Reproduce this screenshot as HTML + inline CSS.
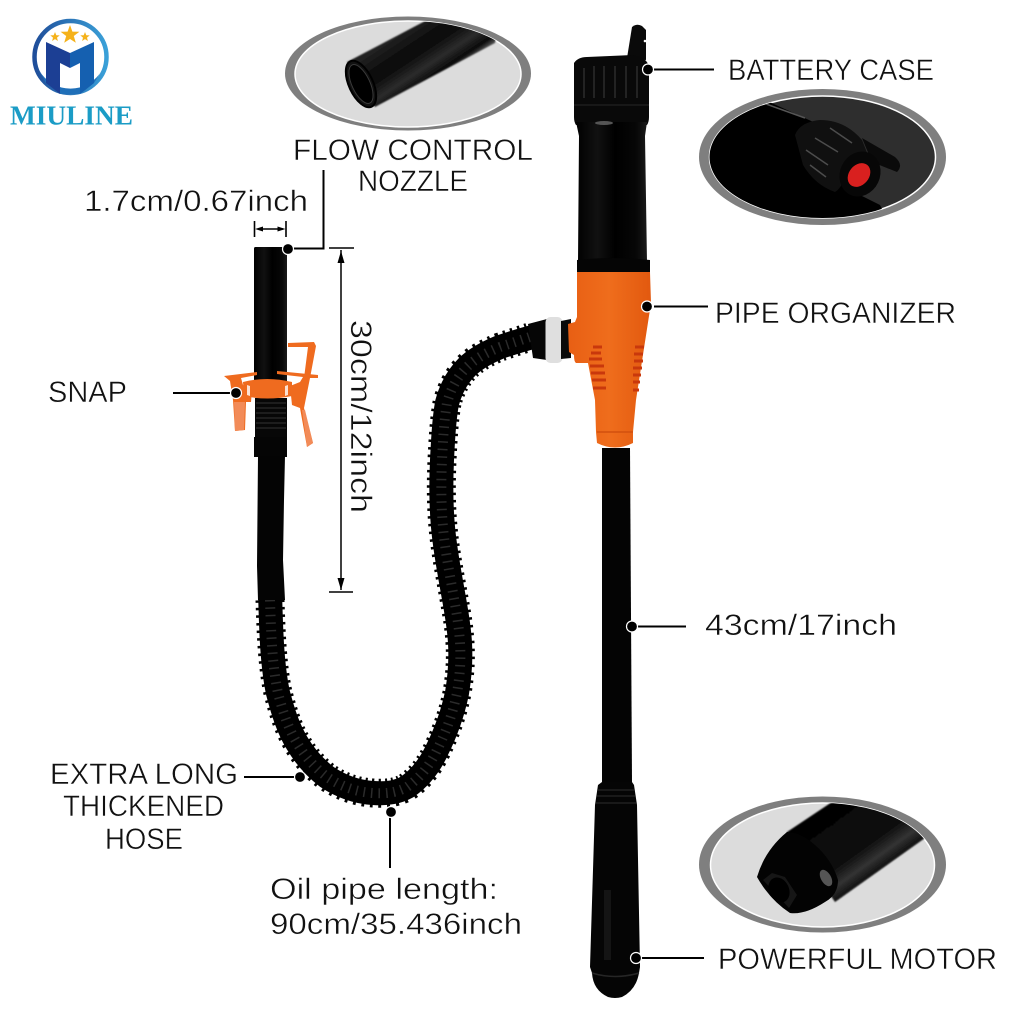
<!DOCTYPE html>
<html><head><meta charset="utf-8">
<style>
html,body{margin:0;padding:0;background:#fff;width:1024px;height:1024px;overflow:hidden}
svg{display:block}
.t{font-family:"Liberation Sans",sans-serif;font-size:30px;fill:#111;stroke:#fff;stroke-width:.45px;paint-order:fill}
</style></head><body>
<svg width="1024" height="1024" viewBox="0 0 1024 1024" xmlns="http://www.w3.org/2000/svg">
<defs>
<clipPath id="c1"><ellipse cx="408" cy="74" rx="113" ry="53"/></clipPath>
<clipPath id="c2"><ellipse cx="822.5" cy="157" rx="113" ry="61"/></clipPath>
<clipPath id="c3"><ellipse cx="822.5" cy="865" rx="112" ry="62"/></clipPath>
<linearGradient id="body" x1="0" x2="1" y1="0" y2="0"><stop offset="0" stop-color="#000"/><stop offset=".3" stop-color="#111"/><stop offset=".55" stop-color="#000"/><stop offset=".85" stop-color="#070707"/><stop offset="1" stop-color="#1a1a1a"/></linearGradient>
<linearGradient id="or" x1="0" x2="1" y1="0" y2="0"><stop offset="0" stop-color="#e85f14"/><stop offset=".5" stop-color="#ef6d1c"/><stop offset="1" stop-color="#e2590f"/></linearGradient>
<linearGradient id="tube1" gradientUnits="userSpaceOnUse" x1="387" y1="42" x2="420" y2="92"><stop offset="0" stop-color="#222"/><stop offset=".4" stop-color="#060606"/><stop offset=".7" stop-color="#2c2c2c"/><stop offset=".9" stop-color="#0a0a0a"/><stop offset="1" stop-color="#555"/></linearGradient>
<linearGradient id="tube3" gradientUnits="userSpaceOnUse" x1="825" y1="815" x2="875" y2="885"><stop offset="0" stop-color="#050505"/><stop offset=".55" stop-color="#0a0a0a"/><stop offset=".75" stop-color="#333"/><stop offset=".92" stop-color="#080808"/><stop offset="1" stop-color="#666"/></linearGradient>
<linearGradient id="logo" x1="0" x2="1" y1="0" y2="0"><stop offset="0" stop-color="#1f4e9a"/><stop offset="1" stop-color="#3aa0d8"/></linearGradient>
<filter id="soft"><feGaussianBlur stdDeviation=".7"/></filter>
</defs>

<!-- logo -->
<circle cx="70.5" cy="57" r="36" fill="none" stroke="url(#logo)" stroke-width="4.5"/>
<path d="M39 70 A36 36 0 0 0 102 70 L94 83 L80 94 L60 94 L46 83Z" fill="#1f6fb8"/>
<path d="M46 42 L70 53 L70 68 L60 63 L60 94 L46 83Z" fill="#1c3f94"/>
<path d="M94 42 L70 53 L70 68 L80 63 L80 94 L94 83Z" fill="#1560b0"/>
<path d="M70 25l2.400 6.600 7 .2-5.600 4.200 2 6.800L70 39l-5.800 3.800 2-6.800-5.600-4.200 7-.2z" fill="#f5b21a"/>
<path d="M55 32l1.300 3.200 3.400.2-2.700 2.200.9 3.400-2.900-1.900-2.900 1.900.9-3.400-2.700-2.200 3.400-.2z" fill="#f5b21a"/>
<path d="M85 32l1.300 3.200 3.400.2-2.700 2.200.9 3.400-2.900-1.900-2.900 1.900.9-3.400-2.700-2.200 3.400-.2z" fill="#f5b21a"/>
<text x="10" y="124.500" font-family="'Liberation Serif',serif" font-weight="700" font-size="27" fill="#1b9cc6" textLength="123" lengthAdjust="spacingAndGlyphs">MIULINE</text>

<!-- inset top -->
<ellipse cx="408" cy="73.500" rx="123" ry="57" fill="#7f7f7f"/>
<ellipse cx="408" cy="74" rx="113" ry="53" fill="#dcdcdc" stroke="#fff" stroke-width="1.500"/>
<g clip-path="url(#c1)">
<path d="M347 62 L427 20 L500 15 L495 43 L375 107Z" fill="url(#tube1)" filter="url(#soft)"/>
<ellipse cx="361" cy="84" rx="12" ry="25" transform="rotate(-25 361 84)" fill="#111" stroke="#000" stroke-width="2"/>
<ellipse cx="361" cy="84" rx="9" ry="21" transform="rotate(-25 361 84)" fill="#000" stroke="#3a3a3a" stroke-width="1"/>
</g>

<!-- inset battery -->
<ellipse cx="822.500" cy="157" rx="123.500" ry="68" fill="#7f7f7f"/>
<ellipse cx="822.500" cy="157" rx="113" ry="61" fill="#2e2e2e" stroke="#fff" stroke-width="1.500"/>
<g clip-path="url(#c2)">
<path d="M700 125 L735 92 L765 100 L820 125 L860 195 L880 205 L890 225 L700 230Z" fill="#000"/>
<path d="M755 100 L805 118" fill="none" stroke="#555" stroke-width="1.500"/>
<path d="M795 135 Q800 122 820 120 Q845 120 862 140 L868 155 Q850 160 845 175 Q842 188 835 192 Q815 185 803 165Z" fill="#101010"/>
<path d="M815 138 L838 152 M806 150 L828 165 M810 165 L826 177 M830 128 L852 143" stroke="#4c4c4c" stroke-width="1.500"/>
<path d="M862 138 L895 157 Q904 165 897 172 L872 162Z" fill="#0a0a0a"/>
<ellipse cx="860" cy="174" rx="20" ry="23" transform="rotate(25 860 174)" fill="#070707"/>
<ellipse cx="859" cy="175" rx="10" ry="13" transform="rotate(40 859 175)" fill="#d9201f"/>
</g>

<!-- inset motor -->
<ellipse cx="822.500" cy="864.500" rx="123.500" ry="68" fill="#7f7f7f"/>
<ellipse cx="822.500" cy="865" rx="112" ry="62" fill="#dcdcdc" stroke="#fff" stroke-width="1.500"/>
<g clip-path="url(#c3)">
<path d="M787 832 L835 800 L885 800 L925 838 L835 902Z" fill="url(#tube3)" filter="url(#soft)"/>
<path d="M787 832 Q765 850 757 877 Q770 900 790 913 Q805 915 825 902 Q838 895 838 880 Q832 860 815 845 Q800 832 787 832Z" fill="#030303"/>
<ellipse cx="826" cy="878" rx="5" ry="9" transform="rotate(-30 826 878)" fill="#555"/>
<path d="M763 880 L789 908 L797 895 L785 877 L772 873Z" fill="#161616"/>
<ellipse cx="779" cy="890" rx="10" ry="13" transform="rotate(-25 779 890)" fill="#000"/>
</g>

<!-- hose -->
<g fill="none">
<path d="M270 590 C271 630 272 665 278 693 C283 712 288 728 297 743 C307 760 318 770 327 777 C342 787 357 792 373 793 C388 794 398 792 407 787 C420 778 430 765 437 750 C447 730 453 712 457 693 C460 675 461 660 460 643 C459 625 456 610 453 593 C449 570 445 550 443 527 C441 505 441 482 442 460 C443 440 444 420 447 403 C451 388 458 376 467 367 C476 358 488 352 500 347 C512 343 521 340 540 335" stroke="#000" stroke-width="24"/>
<path d="M270 600 C271 630 272 665 278 693 C283 712 288 728 297 743 C307 760 318 770 327 777 C342 787 357 792 373 793 C388 794 398 792 407 787 C420 778 430 765 437 750 C447 730 453 712 457 693 C460 675 461 660 460 643 C459 625 456 610 453 593 C449 570 445 550 443 527 C441 505 441 482 442 460 C443 440 444 420 447 403 C451 388 458 376 467 367 C476 358 488 352 500 347 C512 343 521 340 530 337" stroke="#000" stroke-width="29" stroke-dasharray="2.500 5"/>
<path d="M270 600 C271 630 272 665 278 693 C283 712 288 728 297 743 C307 760 318 770 327 777 C342 787 357 792 373 793 C388 794 398 792 407 787 C420 778 430 765 437 750 C447 730 453 712 457 693 C460 675 461 660 460 643 C459 625 456 610 453 593 C449 570 445 550 443 527 C441 505 441 482 442 460 C443 440 444 420 447 403 C451 388 458 376 467 367 C476 358 488 352 500 347 C512 343 521 340 530 337" stroke="#2b2b2b" stroke-width="10" stroke-dasharray="1.500 6"/>
</g>

<!-- connector to organizer -->
<path d="M528 324 L547 319 L547 360 L533 358Z" fill="#060606"/>
<rect x="545.500" y="317" width="17" height="46" rx="5" fill="#dfdfdf"/>
<path d="M561 321 L571 319 L571 358 L561 359Z" fill="#0a0a0a"/>

<!-- nozzle tube -->
<rect x="254" y="247" width="33" height="135" rx="1.500" fill="url(#body)"/>
<rect x="255" y="398" width="32" height="40" fill="#070707"/>
<path d="M256 403h30M256 408h30M256 413h30M256 418h30M256 423h30M256 428h30" stroke="#333" stroke-width="1.100"/>
<rect x="254" y="437" width="33" height="20" fill="#050505"/>
<path d="M258 456 L285 456 L284 500 L283 560 L285 600 L258 600 L257 566Z" fill="#040404"/>

<!-- snap -->
<g fill="#ef6b1f">
<path d="M243 382 Q267 376 292 382 L292 396 Q267 401 244 396Z"/>
<path d="M224 376 L257 372 L257 375 L241 378 L243 385 L252 390 L251 402 L246 402 L245 430 L235 431 L233 400 L230 381Z"/>
<path d="M277 371 L318 375 L318 378 L310 378 L304 408 L313 443 L307 447 L300 408 L292 405 L290 386 L300 382 L303 377 L277 374Z"/>
<path d="M288 343 L314 342 L316 346 L310 378 L304 378 L308 347 L288 347Z"/>
</g>
<path d="M234 402 L245 402 L244 430 L235 431Z" fill="#f28b58"/>
<path d="M302 410 L305 410 L313 443 L307 447Z" fill="#f28b58"/>
<path d="M247 385l3 1v10l-3-1zM288 385l-3 1v10l3-1z" fill="#fff" opacity=".8"/>

<!-- main pump -->
<path d="M627 58 L632 27 Q637 23 642 26 L646 30 L646 60Z" fill="#0a0a0a"/>
<circle cx="645" cy="41" r="1.300" fill="#fff"/>
<path d="M574 63 Q578 57 587 57 L633 55 Q647 57 649 67 L649 117 Q649 122 647 125 L576 125 Q574 122 574 117Z" fill="#090909"/>
<path d="M584 68v30M594 66v32M604 66v32M615 66v32M626 66v32M637 66v32" stroke="#232323" stroke-width="2"/>
<path d="M574 105 L649 105" stroke="#1e1e1e" stroke-width="1.500"/>
<path d="M576 122 L647 122 L645 136 L647 262 L578 262 L579 136Z" fill="url(#body)"/>
<ellipse cx="604" cy="123" rx="9" ry="2" fill="#555"/>
<path d="M577 260 Q613 256 650 260 L650 272 L577 272Z" fill="#050505"/>
<path d="M577 272 L650 272 L651 303 L636 400 L633 432 L633 443 Q615 452 597 443 L596 432 L595 400 L588 363 L576 363 Q574 362 574 355 L569 352 L568 324 L575 322 L577 317Z" fill="url(#or)"/>
<path d="M597 432h36" stroke="#d2500e" stroke-width="1.500"/>
<path d="M593 347h9M591 353h10M589 359h13M590 366h14M591 373h14M592 380h14M593 388h13M644 347h-9M643 354h-9M643 361h-9M642 368h-9M641 375h-8M640 382h-7M639 390h-6" stroke="#c9380c" stroke-width="3"/>
<path d="M602 448 L630 448 L632 782 L602 782Z" fill="#040404"/>
<path d="M602 782 L632 782 L634 785 L637 805 L640 967 L639 973 Q636 990 622 997 Q615 999 608 997 Q593 990 592 973 L590 967 L595 805 L598 785Z" fill="#050505"/>
<path d="M598 790h36M597 796h38M596 803h40" stroke="#262626" stroke-width="1.300"/>
<rect x="604" y="890" width="7" height="70" fill="#141414"/>
<path d="M592 973 Q615 980 639 973" stroke="#262626" stroke-width="1.500" fill="none"/>

<!-- leaders -->
<g stroke="#000" stroke-width="2" fill="none">
<path d="M654 69.500H714M654 306.500H708M638 626.500H686M642 958H704M173 393H231M244 777H295M390 817V868M294 248.500H323.500V170"/>
<path d="M329 248H354M329 592H353M341 250V590" stroke-width="1.500"/>
<path d="M254.500 221V237M286 221V237M258 229H283" stroke-width="1.600"/>
</g>
<path d="M341 251l-3.500 12h7zM341 590l-3.500-12h7zM255 229l8-2.500v5zM285.500 229l-8-2.500v5z" fill="#000"/>
<g fill="#000" stroke="#fff" stroke-width="1.200">
<circle cx="648" cy="69.500" r="5.500"/><circle cx="647" cy="306.500" r="5.500"/><circle cx="632" cy="626.500" r="5.500"/><circle cx="636" cy="958" r="5.500"/>
<circle cx="236" cy="393" r="5.500"/><circle cx="300" cy="777" r="5.500"/><circle cx="391" cy="812" r="5.500"/><circle cx="288" cy="249" r="5.500"/>
</g>

<!-- labels -->
<text class="t" x="293" y="160" textLength="240" lengthAdjust="spacingAndGlyphs">FLOW CONTROL</text>
<text class="t" x="358" y="191" textLength="110" lengthAdjust="spacingAndGlyphs">NOZZLE</text>
<text class="t" x="84" y="211" textLength="224" lengthAdjust="spacingAndGlyphs">1.7cm/0.67inch</text>
<text class="t" x="48" y="402" textLength="79" lengthAdjust="spacingAndGlyphs">SNAP</text>
<text class="t" x="728" y="80" textLength="206" lengthAdjust="spacingAndGlyphs">BATTERY CASE</text>
<text class="t" x="715" y="323" textLength="241" lengthAdjust="spacingAndGlyphs">PIPE ORGANIZER</text>
<text class="t" x="705" y="635" textLength="192" lengthAdjust="spacingAndGlyphs">43cm/17inch</text>
<text class="t" x="50" y="784" textLength="188" lengthAdjust="spacingAndGlyphs">EXTRA LONG</text>
<text class="t" x="63" y="816" textLength="161" lengthAdjust="spacingAndGlyphs">THICKENED</text>
<text class="t" x="105" y="849" textLength="78" lengthAdjust="spacingAndGlyphs">HOSE</text>
<text class="t" x="270" y="899" textLength="228" lengthAdjust="spacingAndGlyphs">Oil pipe length:</text>
<text class="t" x="270" y="934" textLength="252" lengthAdjust="spacingAndGlyphs">90cm/35.436inch</text>
<text class="t" x="718" y="969" textLength="279" lengthAdjust="spacingAndGlyphs">POWERFUL MOTOR</text>
<text class="t" transform="translate(351 320) rotate(90)" textLength="193" lengthAdjust="spacingAndGlyphs">30cm/12inch</text>
</svg>
</body></html>
